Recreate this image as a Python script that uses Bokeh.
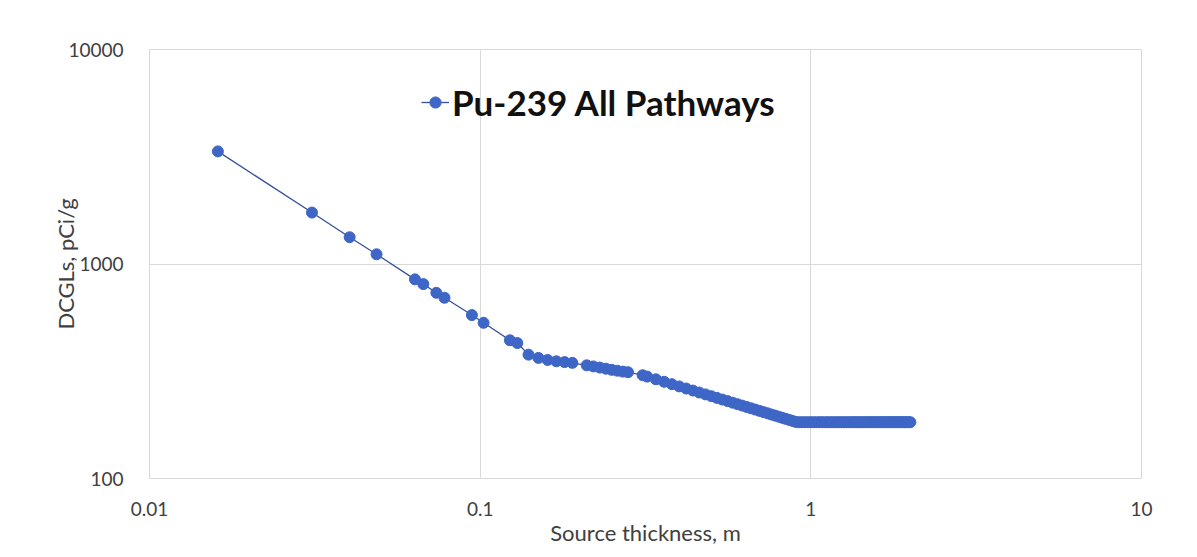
from bokeh.plotting import figure
from bokeh.models import Legend, LegendItem, FixedTicker, ColumnDataSource, CustomJSTickFormatter
from bokeh.embed import file_html
from bokeh.resources import INLINE

# ---- data ----
thickness_m = [
    0.0161, 0.031, 0.0403, 0.0486, 0.0635, 0.0673, 0.0737, 0.078, 0.0944, 0.1024,
    0.123, 0.1295, 0.14, 0.15, 0.16, 0.17, 0.18, 0.19,
    0.21, 0.22, 0.23, 0.24, 0.25, 0.26, 0.27, 0.28,
    0.31, 0.32, 0.34, 0.36, 0.38, 0.40, 0.42, 0.44, 0.46, 0.48, 0.50,
    0.52, 0.54, 0.56, 0.58, 0.60, 0.62, 0.64, 0.66, 0.68, 0.70,
    0.72, 0.74, 0.76, 0.78, 0.80, 0.82, 0.84, 0.86, 0.88, 0.90,
    0.92, 0.94, 0.96, 0.98, 1.00, 1.02, 1.04, 1.06, 1.08, 1.10,
    1.12, 1.14, 1.16, 1.18, 1.20, 1.22, 1.24, 1.26, 1.28, 1.30,
    1.32, 1.34, 1.36, 1.38, 1.40, 1.42, 1.44, 1.46, 1.48, 1.50,
    1.52, 1.54, 1.56, 1.58, 1.60, 1.62, 1.64, 1.66, 1.68, 1.70,
    1.72, 1.74, 1.76, 1.78, 1.80, 1.82, 1.84, 1.86, 1.88, 1.90,
    1.92, 1.94, 1.96, 1.98, 2.00,
]
dcgl_pci_g = [
    3350, 1737, 1333, 1110, 848, 806, 734, 696, 578, 532,
    441, 428, 378, 365, 357, 352, 349, 346,
    337, 333, 329, 325, 321, 318, 315, 313,
    303, 298.5, 290.1, 282.4, 275.3, 268.8, 262.7, 257.0, 251.7, 246.7, 242.0,
    237.6, 233.4, 229.5, 225.7, 222.1, 218.7, 215.5, 212.4, 209.5, 206.6,
    203.9, 201.3, 198.8, 196.4, 194.1, 191.8, 189.7, 187.6, 185.6, 183.6,
    183, 183, 183, 183, 183, 183, 183, 183, 183, 183,
    183, 183, 183, 183, 183, 183, 183, 183, 183, 183,
    183, 183, 183, 183, 183, 183, 183, 183, 183, 183,
    183, 183, 183, 183, 183, 183, 183, 183, 183, 183,
    183, 183, 183, 183, 183, 183, 183, 183, 183, 183,
    183, 183, 183, 183, 183,
]
series_name = "Pu-239 All Pathways"
x_ticks = [0.01, 0.1, 1, 10]
x_tick_labels = ["0.01", "0.1", "1", "10"]
y_ticks = [100, 1000, 10000]
y_tick_labels = ["100", "1000", "10000"]
x_title = "Source thickness, m"
y_title = "DCGLs, pCi/g"

src = ColumnDataSource(data=dict(x=thickness_m, y=dcgl_pci_g))

FONT = "Lato"
TICK_COLOR = "#404040"
BLUE = "#3e66c6"

p = figure(
    width=1197, height=557,
    x_axis_type="log", y_axis_type="log",
    x_range=(0.01, 10), y_range=(100, 10000),
    output_backend="svg", toolbar_location=None,
    frame_width=992, frame_height=429,
    min_border_left=149, min_border_right=56,
    min_border_top=49, min_border_bottom=79,
    background_fill_color="white", border_fill_color="white",
)
p.outline_line_color = "#d9d9d9"

line_r = p.line("x", "y", source=src, line_color="#38509c", line_width=1.3)
dot_r = p.scatter("x", "y", source=src, size=11, marker="circle",
                  fill_color=BLUE, line_color=BLUE)

FMT_CODE = """
let best = -1, bd = 1e9;
for (let i = 0; i < tv.length; i++) {
  const d = Math.abs(Math.log10(tv[i]) - Math.log10(tick));
  if (d < bd) { bd = d; best = i; }
}
return (best >= 0 && bd < 1e-6) ? tl[best] : "";
"""

for ax, tks, labels in ((p.xaxis[0], x_ticks, x_tick_labels),
                        (p.yaxis[0], y_ticks, y_tick_labels)):
    ax.ticker = FixedTicker(ticks=tks, minor_ticks=[])
    ax.formatter = CustomJSTickFormatter(args=dict(tv=tks, tl=labels), code=FMT_CODE)
    ax.axis_line_color = None
    ax.major_tick_line_color = None
    ax.minor_tick_line_color = None
    ax.major_label_text_font = FONT
    ax.major_label_text_font_size = "19px"
    ax.major_label_text_color = TICK_COLOR
    ax.axis_label_text_font = FONT
    ax.axis_label_text_font_size = "22px"
    ax.axis_label_text_font_style = "normal"
    ax.axis_label_text_color = TICK_COLOR

p.xaxis.axis_label = x_title
p.yaxis.axis_label = y_title
p.xaxis.major_label_standoff = 17
p.yaxis.major_label_standoff = 20
p.xaxis.axis_label_standoff = 0
p.yaxis.axis_label_standoff = -14

p.xgrid.grid_line_color = "#d9d9d9"
p.ygrid.grid_line_color = "#d9d9d9"
p.xgrid.grid_line_width = 1
p.ygrid.grid_line_width = 1

legend = Legend(
    items=[LegendItem(label=series_name, renderers=[line_r, dot_r])],
    location=(272, 355),
    label_text_font=FONT, label_text_font_size="35px",
    label_text_font_style="bold", label_text_color="#111111",
    glyph_width=28, glyph_height=34, label_height=34,
    label_standoff=3, padding=0, margin=0, spacing=0,
    border_line_color=None, background_fill_alpha=0,
)
p.add_layout(legend)

open("out.html", "w").write(file_html(p, INLINE))
